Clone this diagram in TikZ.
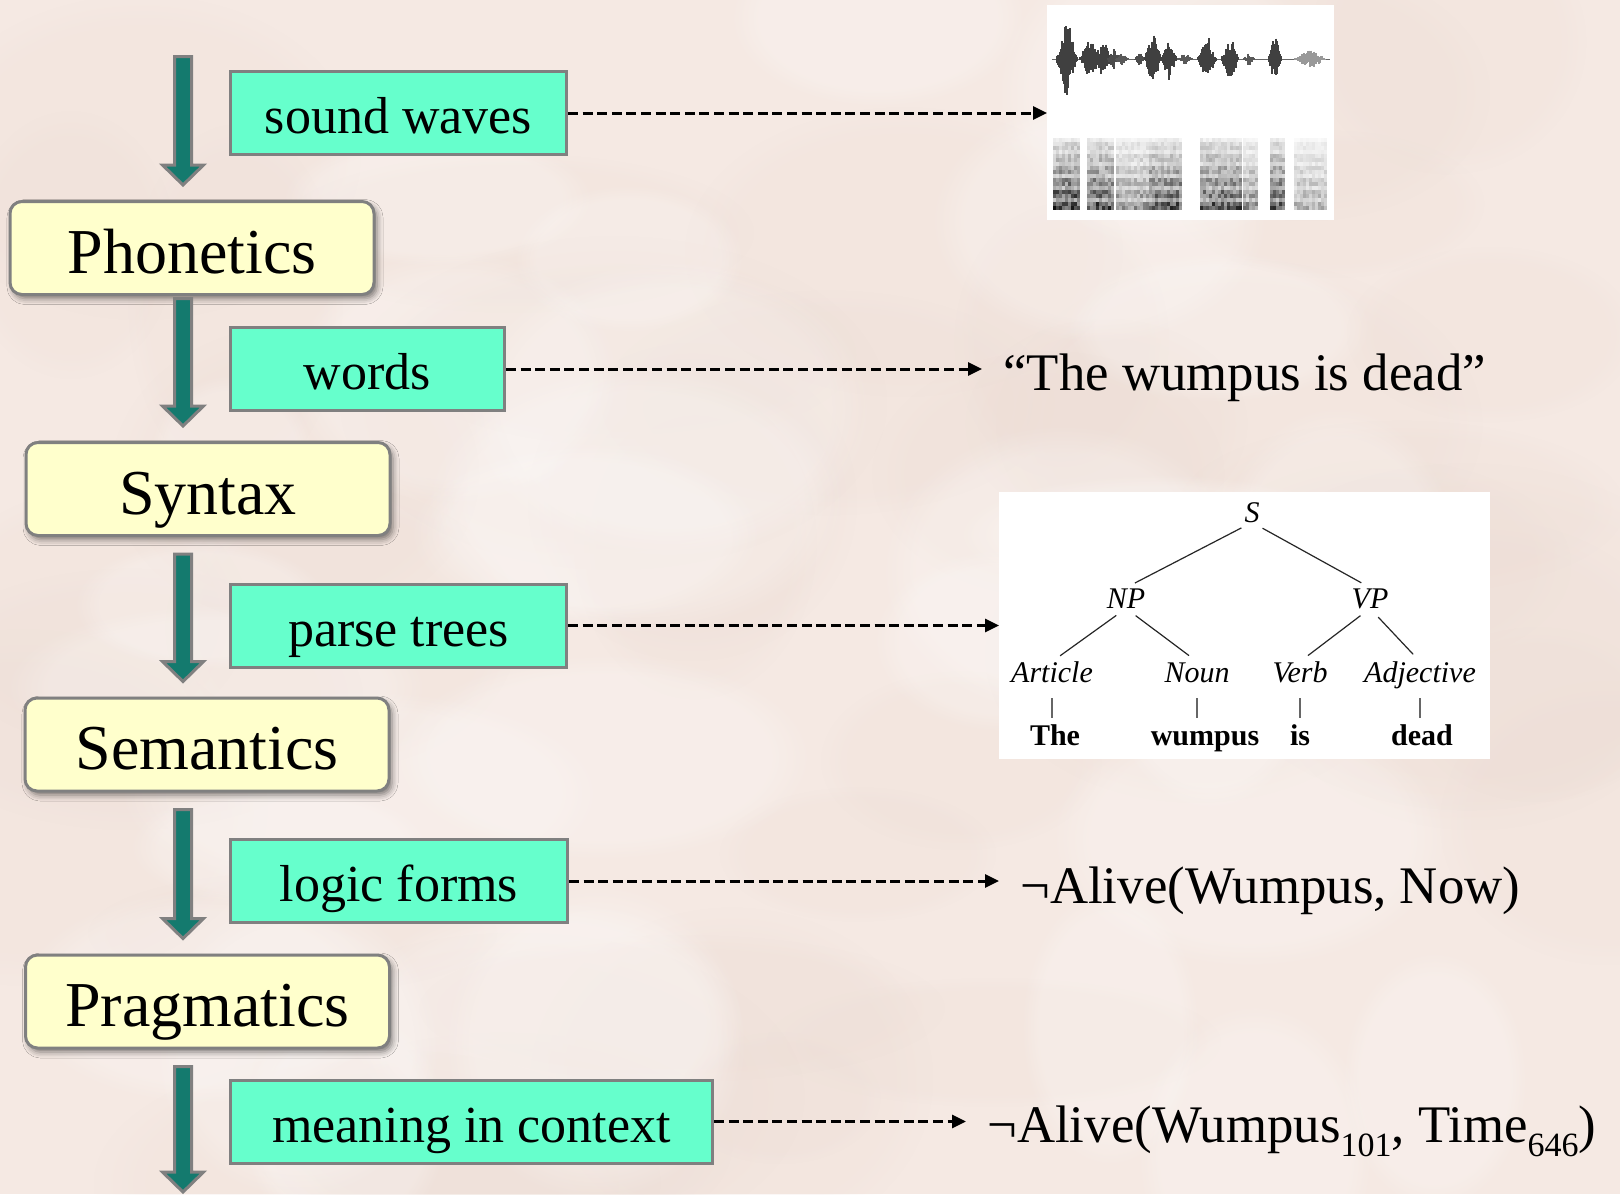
\documentclass[tikz,border=0pt]{standalone}
\usepackage{fontspec}
\setmainfont{Liberation Serif}
\usetikzlibrary{arrows.meta,calc,shadows.blur,fadings}

\definecolor{paper}{RGB}{245,233,227}
\definecolor{mottle}{RGB}{236,220,212}
\definecolor{stagefill}{RGB}{255,255,204}
\definecolor{datafill}{RGB}{102,255,204}
\definecolor{edgegray}{RGB}{128,128,128}
\definecolor{pipeteal}{RGB}{20,122,110}

% fat down arrow of the pipeline, from #1 (top) to #2 (tip)
\newcommand{\flowarrow}[2]{%
  \draw[pipe] ($(#1)+(-8.5,0)$) -- ($(#2)+(-8.5,-20)$) -- ($(#2)+(-20.5,-20)$) -- (#2)
    -- ($(#2)+(20.5,-20)$) -- ($(#2)+(8.5,-20)$) -- ($(#1)+(8.5,0)$) -- cycle;}
% subscript as set in the logic forms
\newcommand{\idx}[1]{\raisebox{-0.28em}{\fontsize{17}{19}\selectfont #1}}

\begin{document}
\begin{tikzpicture}[x=0.5pt, y=-0.5pt,
    stage/.style={rectangle, rounded corners=6pt, draw=edgegray, line width=1.5pt, fill=stagefill,
      minimum width=182pt, minimum height=46.5pt, font=\fontsize{32}{36}\selectfont,
      text height=25pt, text depth=0pt,
      blur shadow={shadow xshift=1.5pt, shadow yshift=-2pt, shadow blur radius=3pt, shadow opacity=50}},
    data/.style={rectangle, draw=edgegray, line width=1.5pt, fill=datafill, minimum height=41.5pt,
      anchor=west, font=\fontsize{26}{30}\selectfont, text height=20.8pt, text depth=0pt},
    target/.style={anchor=west, inner xsep=10.5pt, font=\fontsize{26.4}{30}\selectfont,
      text height=21pt, text depth=0pt},
    pipe/.style={fill=pipeteal, draw=edgegray, line width=1.5pt},
    link/.style={line width=1.5pt, dash pattern=on 5pt off 2.3pt, -{Triangle[length=7pt,width=6.5pt]}},
    panel/.style={anchor=north west, fill=white, inner sep=0pt},
    cat/.style={font=\fontsize{15}{17}\selectfont\itshape, inner sep=0pt, text height=10pt, text depth=0pt},
    word/.style={font=\fontsize{15}{17}\selectfont\bfseries, inner sep=0pt, text height=10pt, text depth=0pt},
    branch/.style={line width=0.6pt, black!85, shorten <=6pt, shorten >=5pt},
    tick/.style={line width=0.6pt, black!60, shorten <=8pt, shorten >=3.5pt},
    wavepen/.style={line width=0.6pt},
    blot/.style={path fading=circle with fuzzy edge 20 percent}
]
    \fill[paper] (0,0) rectangle (1620,1194);
    \useasboundingbox (0,0) rectangle (1620,1194);

    % mottled paper
    \pgfmathsetseed{5}
    \foreach \i in {1,...,40} {
      \pgfmathsetmacro\bx{1620*rnd}
      \pgfmathsetmacro\by{1194*rnd}
      \pgfmathsetmacro\br{90+200*rnd}
      \pgfmathsetmacro\bs{60+120*rnd}
      \fill[mottle, opacity=0.22, blot] (\bx,\by) ellipse ({\br} and {\bs});
    }
    \foreach \i in {1,...,30} {
      \pgfmathsetmacro\bx{1620*rnd}
      \pgfmathsetmacro\by{1194*rnd}
      \pgfmathsetmacro\br{80+180*rnd}
      \pgfmathsetmacro\bs{60+100*rnd}
      \fill[white, opacity=0.22, blot] (\bx,\by) ellipse ({\br} and {\bs});
    }

    % Processing stages
    \node[stage] (phon) at (192,248) {Phonetics};
    \node[stage] (syn) at (208,489) {Syntax};
    \node[stage] (sem) at (207,744.5) {Semantics};
    \node[stage] (prag) at (207.5,1001.5) {Pragmatics};

    % Data between the stages
    \node[data, minimum width=168pt] (sw) at (229,113) {sound waves};
    \node[data, minimum width=137pt] (wd) at (229,369) {words};
    \node[data, minimum width=168pt] (pt) at (229,625.5) {parse trees};
    \node[data, minimum width=168.5pt] (lf) at (229,881) {logic forms};
    \node[data, minimum width=241pt] (mc) at (229,1121.5) {meaning in context};

    % Pipeline arrows
    \coordinate (spine) at (183,0);
    \coordinate (src) at (183,56.5);
    \coordinate (a1) at ($(phon.north -| spine)+(0,-15)$);
    \coordinate (b2) at ($(phon.south -| spine)+(0,2.5)$);
    \coordinate (a2) at ($(syn.north -| spine)+(0,-15)$);
    \coordinate (b3) at ($(syn.south -| spine)+(0,17)$);
    \coordinate (a3) at ($(sem.north -| spine)+(0,-15)$);
    \coordinate (b4) at ($(sem.south -| spine)+(0,17)$);
    \coordinate (a4) at ($(prag.north -| spine)+(0,-15)$);
    \coordinate (b5) at ($(prag.south -| spine)+(0,17)$);
    \coordinate (sink) at (183,1192);
    \flowarrow{src}{a1}
    \flowarrow{b2}{a2}
    \flowarrow{b3}{a3}
    \flowarrow{b4}{a4}
    \flowarrow{b5}{sink}

    % Speech signal: waveform above, spectrogram below
    \node[panel, minimum width=143.5pt, minimum height=107.5pt] (wave) at (1047,5) {};
    \pgfmathsetseed{11}
    \draw[black!60, line width=0.5pt] (1052,59) -- (1330,59);
    \foreach \c/\w/\a/\g in {1067/10/44/75, 1090/10/24/75, 1103/8/22/75, 1114/6/10/70, 1122/6/7/65,
        1140/5/7/70, 1153/8/28/75, 1169/7/24/75, 1185/7/6/65, 1207/9/26/75, 1230/8/26/75,
        1249/5/7/65, 1275/6/26/75, 1310/15/11/40} {
      \foreach \dx in {-\w,...,\w} {
        \pgfmathsetmacro\up{\a*(1-abs(\dx)/(\w+1))*(0.3+0.7*rnd)}
        \pgfmathsetmacro\dn{\a*(1-abs(\dx)/(\w+1))*(0.3+0.7*rnd)}
        \draw[wavepen, black!\g] (\c+\dx,59-\up) -- (\c+\dx,59+\dn);
      }
    }
    \foreach \a/\b/\k in {1053/1077/95, 1087/1113/90, 1116/1146/55, 1149/1180/85, 1200/1240/85,
        1243/1257/55, 1270/1283/85, 1294/1326/40} {
      \pgfmathtruncatemacro\nx{\a+3}
      \foreach \x in {\a,\nx,...,\b} {
        \foreach \y in {138,142,...,206} {
          \pgfmathsetmacro\band{0.22+0.78*((\y-138)/68)^1.2}
          \pgfmathtruncatemacro\lvl{min(100,\k*\band*(0.75+0.25*cos(\y*30))*(0.5+0.7*rnd))}
          \fill[black!\lvl] (\x,\y) rectangle ++(3,4);
        }
      }
    }

    % Sentence and logic forms
    \node[target] (sent) at (982,369) {“The wumpus is dead”};
    \node[target] (logic) at (999,882) {¬Alive(Wumpus, Now)};
    \node[target] (ctx) at (966,1121) {¬Alive(Wumpus\idx{101}, Time\idx{646})};

    % Parse tree
    \node[panel, minimum width=245.5pt, minimum height=133.5pt] (tree) at (999,492) {};
    \node[cat] (s) at (1252,512) {S};
    \node[cat] (np) at (1126,598) {NP};
    \node[cat] (vp) at (1370,598) {VP};
    \node[cat] (art) at (1052,672) {Article};
    \node[cat] (noun) at (1197,672) {Noun};
    \node[cat] (verb) at (1300,672) {Verb};
    \node[cat] (adj) at (1420,672) {Adjective};
    \node[word] (the) at (1055,735) {The};
    \node[word] (wum) at (1205,735) {wumpus};
    \node[word] (is) at (1300,735) {is};
    \node[word] (dead) at (1422,735) {dead};
    \draw[branch] (s.south) -- (np.north);
    \draw[branch] (s.south) -- (vp.north);
    \draw[branch] (np.south) -- (art.north);
    \draw[branch] (np.south) -- (noun.north);
    \draw[branch] (vp.south) -- (verb.north);
    \draw[branch] (vp.south) -- (adj.north);
    \draw[tick] (art.south) -- (art.south |- the.north);
    \draw[tick] (noun.south) -- (noun.south |- wum.north);
    \draw[tick] (verb.south) -- (verb.south |- is.north);
    \draw[tick] (adj.south) -- (adj.south |- dead.north);

    % Links to examples
    \draw[link] (sw.east) -- (sw.east -| wave.west);
    \draw[link] (wd.east) -- (wd.east -| sent.west);
    \draw[link] (pt.east) -- (pt.east -| tree.west);
    \draw[link] (lf.east) -- (lf.east -| logic.west);
    \draw[link] (mc.east) -- (mc.east -| ctx.west);
\end{tikzpicture}
\end{document}
